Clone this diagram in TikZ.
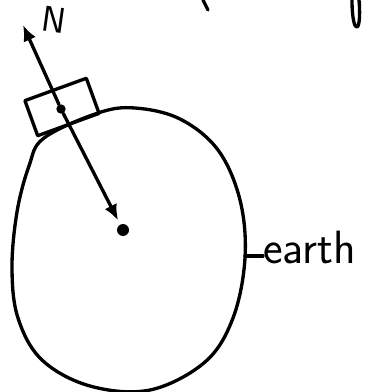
\documentclass[tikz,border=0pt]{standalone}
\usetikzlibrary{arrows.meta, positioning, calc}
\begin{document}
\begin{tikzpicture}[
    x=0.75pt, y=-0.75pt,
    pen/.style={line width=2.5pt, line cap=round, line join=round},
    box/.style={rectangle, draw, pen, minimum width=49pt, minimum height=28pt, rotate=20},
    dot/.style={circle, fill, inner sep=0pt, minimum size=7pt},
    line/.style={pen, -{Latex[length=12pt, width=10pt]}},
    tag/.style={font=\sffamily\fontsize{35}{40}\selectfont, inner sep=0pt}
]
    \useasboundingbox (0,0) rectangle (387,392);

    % Earth outline
    \draw[pen] plot[smooth cycle, tension=0.6] coordinates {(44,138) (98,113) (135,108) (180,119) (218,150) (240,200) (245,258) (233,318) (205,362) (150,390) (90,386) (42,360) (18,318) (12,268) (17,212) (29,166)};

    % cut-off strokes at the top edge
    \draw[pen] (203,0) .. controls (205,5) .. (208,10);
    \draw[pen] (352,0) .. controls (352,20) and (355,28) .. (357,27) .. controls (360,26) and (360,10) .. (359,0);

    % Nodes
    \node (block) [box] at (62,107) {};
    \node (blockdot) [dot] at (61,109) {};
    \coordinate (centre) at (123,230);
    \node (centredot) [dot, minimum size=9pt] at (centre) {};
    \coordinate (ntip) at (23,25);
    \node (nlabel) [tag, font=\sffamily\fontsize{27}{30}\selectfont, rotate=-8] at (54,20) {N};
    \coordinate (surface) at (245,256);
    \node (earth) [tag, anchor=base west] at (263,263) {earth};

    % Connections
    \draw [line] (blockdot) -- (ntip);
    \draw [line, shorten >=8pt] (blockdot) -- (centre);
    \draw [pen] (surface) -- (surface -| earth.west);
\end{tikzpicture}
\end{document}
